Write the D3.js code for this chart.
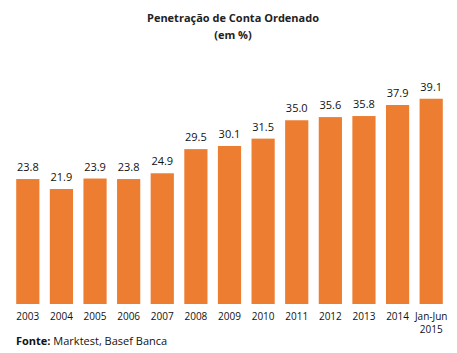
<!DOCTYPE html>
<html>
<head>
<meta charset="utf-8">
<script src="https://cdn.jsdelivr.net/npm/d3@7"></script>
<style>
  body { margin: 0; background: #fff; }
  svg { font-family: "Open Sans", "Liberation Sans", sans-serif; }
</style>
</head>
<body>
<svg id="chart"></svg>
<script>
// Chart data
const categories = ["2003", "2004", "2005", "2006", "2007", "2008", "2009", "2010", "2011", "2012", "2013", "2014", "Jan-Jun|2015"];
const values = [23.8, 21.9, 23.9, 23.8, 24.9, 29.5, 30.1, 31.5, 35.0, 35.6, 35.8, 37.9, 39.1];

const width = 457, height = 353;
const svg = d3.select("#chart").attr("width", width).attr("height", height);

// Plot area
const plot = { left: 11, right: 448, top: 50, bottom: 304 };

const x = d3.scaleBand()
    .domain(categories)
    .range([plot.left, plot.right])
    .paddingInner(0.31)
    .paddingOuter(0.155);

const y = d3.scaleLinear()
    .domain([0, 48.4])
    .range([plot.bottom, plot.bottom - 48.4 * 5.25]);

// Title
svg.append("text")
    .attr("x", 233).attr("y", 22)
    .attr("text-anchor", "middle")
    .style("font-size", "11px").style("font-weight", "bold").style("fill", "#222")
    .text("Penetração de Conta Ordenado");
svg.append("text")
    .attr("x", 233).attr("y", 39)
    .attr("text-anchor", "middle")
    .style("font-size", "11px").style("font-weight", "bold").style("fill", "#222")
    .text("(em %)");

// Bars
svg.selectAll(".bar")
    .data(values)
    .enter()
    .append("rect")
    .attr("class", "bar")
    .attr("x", (d, i) => x(categories[i]))
    .attr("width", x.bandwidth())
    .attr("y", d => y(d))
    .attr("height", d => y(0) - y(d))
    .style("fill", "#ED7D31");

// Value labels
svg.selectAll(".val")
    .data(values)
    .enter()
    .append("text")
    .attr("class", "val")
    .attr("x", (d, i) => x(categories[i]) + x.bandwidth() / 2)
    .attr("y", d => y(d) - 8)
    .attr("text-anchor", "middle")
    .style("font-size", "11px").style("fill", "#111")
    .text(d => d.toFixed(1));

// X axis labels (no axis line)
const xAxis = svg.append("g")
    .attr("transform", `translate(0,${plot.bottom})`)
    .call(d3.axisBottom(x).tickSize(0).tickPadding(0).tickFormat(""));
xAxis.select(".domain").remove();

xAxis.selectAll(".tick").each(function(d) {
    const lines = d.split("|");
    const t = d3.select(this).append("text")
        .attr("text-anchor", "middle")
        .style("font-size", "10px").style("fill", "#111")
        .attr("font-family", "\"Open Sans\", \"Liberation Sans\", sans-serif");
    lines.forEach((l, j) => {
        t.append("tspan").attr("x", 0).attr("y", 16 + j * 13).text(l);
    });
});

// Source
svg.append("text")
    .attr("x", 16).attr("y", 345)
    .style("font-size", "11px").style("fill", "#111")
    .html('<tspan font-weight="bold">Fonte:</tspan> Marktest, Basef Banca');
</script>
</body>
</html>
